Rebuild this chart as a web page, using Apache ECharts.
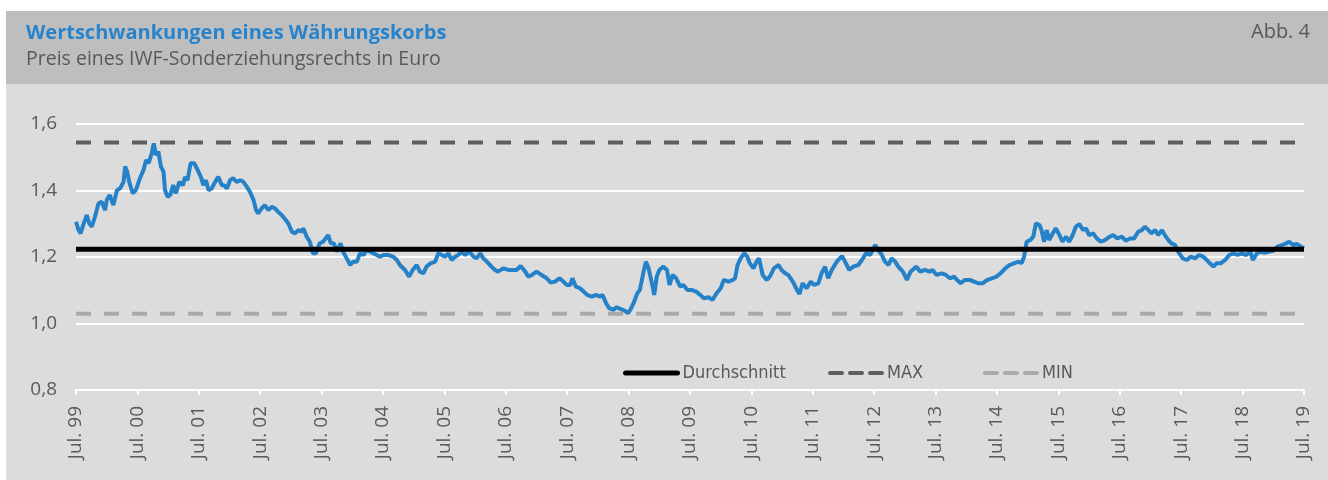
<!DOCTYPE html>
<html lang="de">
<head>
<meta charset="utf-8">
<title>Wertschwankungen eines Währungskorbs</title>
<script src="https://cdn.jsdelivr.net/npm/echarts@6/dist/echarts.min.js"></script>
<style>
  html, body { margin: 0; padding: 0; background: #fff; }
  #chart { width: 1328px; height: 480px; }
</style>
</head>
<body>
<div id="chart"></div>
<script>
// months since Jul. 1999
const months = [
  0.0, 0.5, 0.9, 1.4, 2.1, 2.6, 3.1, 3.7, 4.4, 5.0, 5.7, 6.0, 6.6, 7.3, 8.0, 8.6, 9.3, 9.6, 10.0, 10.4,
  11.1, 11.7, 12.5, 13.2, 13.7, 14.2, 14.8, 15.2, 15.6, 16.1, 16.6, 17.1, 17.4, 17.9, 18.4, 19.0, 19.5, 20.2, 20.9, 21.3,
  21.8, 22.4, 23.1, 23.6, 24.4, 24.9, 25.4, 25.9, 26.5, 27.2, 27.8, 28.5, 28.9, 29.5, 30.1, 30.7, 31.4, 32.1, 32.7, 33.4,
  34.0, 34.7, 35.2, 35.6, 36.3, 36.9, 37.6, 38.3, 38.9, 39.5, 40.2, 41.0, 41.5, 42.2, 42.8, 43.5, 44.1, 44.4, 45.1, 45.7,
  46.3, 46.9, 47.6, 48.3, 49.3, 49.8, 50.4, 51.0, 51.7, 52.2, 52.9, 53.6, 54.2, 54.9, 55.5, 56.2, 56.8, 57.5, 58.1, 58.8,
  59.4, 60.1, 61.0, 62.0, 62.7, 63.3, 64.3, 65.1, 65.8, 66.6, 67.2, 67.9, 68.5, 69.3, 70.2, 70.8, 71.5, 72.1, 72.8, 73.4,
  74.1, 74.7, 75.4, 76.0, 76.9, 77.7, 78.3, 79.0, 79.6, 80.3, 81.2, 81.9, 82.5, 83.5, 84.5, 85.5, 86.1, 86.9, 87.8, 88.4,
  89.1, 90.0, 91.0, 92.0, 92.8, 93.6, 94.5, 94.9, 95.9, 96.6, 97.0, 97.7, 98.5, 99.2, 99.9, 100.8, 101.6, 102.4, 102.9, 103.6,
  104.2, 105.0, 105.7, 106.5, 107.3, 107.9, 108.5, 109.1, 109.7, 110.2, 110.6, 111.0, 111.4, 111.9, 112.2, 112.7, 113.0, 113.5, 114.0, 114.8,
  115.5, 116.0, 116.6, 117.3, 118.1, 118.7, 119.5, 120.3, 121.2, 122.0, 122.7, 123.6, 124.4, 125.2, 126.0, 126.6, 127.5, 128.4, 128.8, 129.3,
  129.9, 130.6, 131.2, 131.7, 132.4, 133.0, 133.5, 134.2, 135.0, 135.6, 136.4, 137.3, 137.9, 138.6, 139.2, 140.1, 140.9, 141.4, 142.0, 142.8,
  143.6, 144.2, 145.1, 145.7, 146.4, 147.0, 147.7, 148.7, 149.7, 150.3, 151.1, 151.9, 152.9, 153.6, 154.4, 155.2, 156.2, 156.8, 157.5, 158.1,
  158.8, 159.4, 160.1, 160.7, 161.6, 162.4, 163.1, 164.2, 165.0, 165.9, 166.8, 167.4, 168.2, 169.2, 170.0, 170.8, 171.6, 172.2, 172.9, 173.7,
  174.7, 175.5, 176.3, 177.2, 178.1, 179.0, 179.9, 180.7, 181.6, 182.5, 183.3, 184.2, 184.8, 185.3, 185.8, 186.5, 187.1, 187.6, 188.3, 188.7,
  189.2, 189.7, 190.2, 190.9, 191.5, 192.2, 192.8, 193.5, 194.1, 194.8, 195.4, 196.1, 196.8, 197.4, 198.0, 198.8, 199.5, 200.3, 201.1, 202.0,
  202.7, 203.5, 204.4, 205.2, 206.0, 206.8, 207.6, 208.3, 208.9, 209.6, 210.2, 210.9, 211.5, 212.2, 212.8, 213.5, 214.1, 214.8, 215.4, 216.3,
  217.1, 217.9, 218.7, 219.5, 220.3, 221.0, 221.6, 222.3, 222.9, 223.7, 224.6, 225.4, 226.2, 227.0, 227.8, 228.7, 229.5, 230.0, 230.8, 231.5,
  232.4, 233.2, 234.0, 234.8, 235.7, 236.5, 237.1, 237.9, 238.6, 239.4, 240.0
];
const sdrEuro = [
  1.306, 1.281, 1.271, 1.296, 1.326, 1.301, 1.291, 1.321, 1.361, 1.366, 1.341, 1.371, 1.386, 1.356, 1.401, 1.406, 1.426, 1.472, 1.457, 1.426,
  1.391, 1.401, 1.437, 1.462, 1.492, 1.482, 1.512, 1.542, 1.507, 1.517, 1.472, 1.457, 1.401, 1.381, 1.386, 1.416, 1.391, 1.426, 1.416, 1.441,
  1.431, 1.482, 1.482, 1.467, 1.441, 1.416, 1.431, 1.401, 1.406, 1.426, 1.441, 1.416, 1.416, 1.406, 1.431, 1.437, 1.426, 1.431, 1.426, 1.411,
  1.396, 1.371, 1.341, 1.331, 1.346, 1.356, 1.341, 1.351, 1.346, 1.336, 1.326, 1.311, 1.301, 1.276, 1.271, 1.281, 1.276, 1.286, 1.261, 1.246,
  1.211, 1.211, 1.241, 1.246, 1.266, 1.241, 1.241, 1.216, 1.241, 1.216, 1.196, 1.176, 1.186, 1.186, 1.211, 1.206, 1.221, 1.216, 1.211, 1.206,
  1.201, 1.206, 1.206, 1.201, 1.191, 1.176, 1.161, 1.141, 1.161, 1.176, 1.156, 1.151, 1.171, 1.181, 1.186, 1.211, 1.206, 1.201, 1.211, 1.191,
  1.201, 1.206, 1.216, 1.206, 1.216, 1.201, 1.196, 1.211, 1.196, 1.186, 1.171, 1.161, 1.156, 1.166, 1.161, 1.161, 1.161, 1.173, 1.156, 1.141,
  1.146, 1.156, 1.146, 1.136, 1.123, 1.126, 1.136, 1.131, 1.116, 1.116, 1.136, 1.111, 1.106, 1.096, 1.086, 1.081, 1.086, 1.081, 1.086, 1.061,
  1.046, 1.041, 1.049, 1.043, 1.038, 1.031, 1.046, 1.066, 1.091, 1.101, 1.131, 1.161, 1.186, 1.166, 1.171, 1.111, 1.086, 1.141, 1.161, 1.171,
  1.161, 1.116, 1.146, 1.136, 1.111, 1.116, 1.101, 1.101, 1.096, 1.086, 1.076, 1.079, 1.071, 1.091, 1.106, 1.131, 1.126, 1.131, 1.136, 1.176,
  1.196, 1.211, 1.201, 1.181, 1.166, 1.186, 1.196, 1.146, 1.131, 1.141, 1.166, 1.176, 1.161, 1.151, 1.146, 1.126, 1.101, 1.089, 1.121, 1.106,
  1.126, 1.116, 1.121, 1.151, 1.171, 1.136, 1.161, 1.186, 1.203, 1.186, 1.161, 1.171, 1.176, 1.191, 1.211, 1.206, 1.236, 1.221, 1.206, 1.186,
  1.176, 1.196, 1.186, 1.171, 1.156, 1.131, 1.156, 1.171, 1.156, 1.161, 1.156, 1.161, 1.146, 1.151, 1.146, 1.136, 1.141, 1.131, 1.121, 1.131,
  1.131, 1.126, 1.121, 1.121, 1.131, 1.136, 1.141, 1.151, 1.166, 1.176, 1.181, 1.186, 1.181, 1.201, 1.246, 1.251, 1.261, 1.301, 1.296, 1.281,
  1.246, 1.281, 1.251, 1.271, 1.286, 1.266, 1.246, 1.261, 1.246, 1.266, 1.291, 1.299, 1.281, 1.286, 1.266, 1.271, 1.256, 1.246, 1.251, 1.261,
  1.266, 1.256, 1.261, 1.249, 1.256, 1.256, 1.276, 1.281, 1.291, 1.281, 1.271, 1.281, 1.266, 1.281, 1.266, 1.251, 1.241, 1.236, 1.216, 1.196,
  1.191, 1.201, 1.196, 1.206, 1.201, 1.191, 1.181, 1.171, 1.181, 1.181, 1.191, 1.206, 1.211, 1.206, 1.211, 1.206, 1.216, 1.191, 1.211, 1.216,
  1.213, 1.216, 1.219, 1.231, 1.236, 1.241, 1.246, 1.236, 1.239, 1.231, 1.226
];
const tickLabels = [
  'Jul. 99', 'Jul. 00', 'Jul. 01', 'Jul. 02', 'Jul. 03', 'Jul. 04', 'Jul. 05', 'Jul. 06', 'Jul. 07', 'Jul. 08', 'Jul. 09',
  'Jul. 10', 'Jul. 11', 'Jul. 12', 'Jul. 13', 'Jul. 14', 'Jul. 15', 'Jul. 16', 'Jul. 17', 'Jul. 18', 'Jul. 19'
];
const refNames = ['Durchschnitt', 'MAX', 'MIN'];
const refValues = [1.223, 1.544, 1.029];

const grey = '#595959';
const font = '"Open Sans", "Noto Sans", sans-serif';
const narrow = '"Liberation Sans Narrow", "DejaVu Sans Condensed", Roboto, sans-serif';

const chart = echarts.init(document.getElementById('chart'), null, { renderer: 'canvas' });

// line look of the three reference lines (plot, legend)
const refStyles = [
  { color: '#000000', width: 5, type: 'solid', legendType: 'solid' },
  { color: '#5e5e5e', width: 4, type: [15, 13], legendType: [12, 8] },
  { color: '#a9a9a9', width: 4, type: [15, 13], legendType: [12, 8] }
];
const legendLeft = [623, 828, 983];

const option = {
  animation: false,
  backgroundColor: '#ffffff',
  graphic: [
    { type: 'rect', z: -100, shape: { x: 6, y: 11, width: 1322, height: 73 }, style: { fill: '#bebebe' } },
    { type: 'rect', z: -100, shape: { x: 6, y: 84, width: 1322, height: 396 }, style: { fill: '#dcdcdc' } },
    { type: 'text', x: 26, y: 23, style: { text: 'Wertschwankungen eines Währungskorbs', font: 'bold 20px ' + font, fill: '#2784cc' } },
    { type: 'text', x: 26, y: 49, style: { text: 'Preis eines IWF-Sonderziehungsrechts in Euro', font: '19.5px ' + font, fill: grey } },
    { type: 'text', x: 1310, y: 22, style: { text: 'Abb. 4', font: '20px ' + font, fill: grey, align: 'right' } }
  ],
  legend: refNames.map((name, i) => ({
    data: [{
      name: name,
      lineStyle: { width: refStyles[i].width, type: refStyles[i].legendType, color: refStyles[i].color, cap: 'round' }
    }],
    left: legendLeft[i],
    top: 364,
    padding: 0,
    itemWidth: 52,
    itemHeight: 18,
    itemStyle: { opacity: 0 },
    textStyle: { color: grey, fontSize: 18, fontFamily: narrow }
  })),
  grid: { left: 76, right: 24, top: 124, bottom: 90 },
  xAxis: {
    type: 'value',
    min: 0,
    max: 240,
    interval: 12,
    axisLine: { lineStyle: { color: '#ffffff', width: 2 } },
    axisTick: { show: true, length: 5, lineStyle: { color: '#ffffff', width: 2 } },
    splitLine: { show: false },
    axisLabel: {
      rotate: 90,
      margin: 16,
      color: grey,
      fontSize: 19,
      fontFamily: font,
      formatter: v => tickLabels[Math.round(v / 12)] || ''
    }
  },
  yAxis: {
    type: 'value',
    min: 0.8,
    max: 1.6,
    interval: 0.2,
    axisLine: { show: false },
    axisTick: { show: false },
    splitLine: { lineStyle: { color: '#ffffff', width: 2 } },
    axisLabel: {
      margin: 19,
      color: grey,
      fontSize: 19,
      fontFamily: font,
      formatter: v => v.toFixed(1).replace('.', ',')
    }
  },
  series: [
    {
      name: 'SZR',
      type: 'line',
      symbol: 'none',
      z: 2,
      lineStyle: { color: '#2581c8', width: 4 },
      data: months.map((m, i) => [m, sdrEuro[i]])
    }
  ].concat(refNames.map((name, i) => ({
    name: name,
    type: 'line',
    symbol: 'none',
    z: 3,
    color: refStyles[i].color,
    lineStyle: { color: refStyles[i].color, width: refStyles[i].width, type: refStyles[i].type },
    data: [[0, refValues[i]], [240, refValues[i]]]
  })))
};

chart.setOption(option);
</script>
</body>
</html>
